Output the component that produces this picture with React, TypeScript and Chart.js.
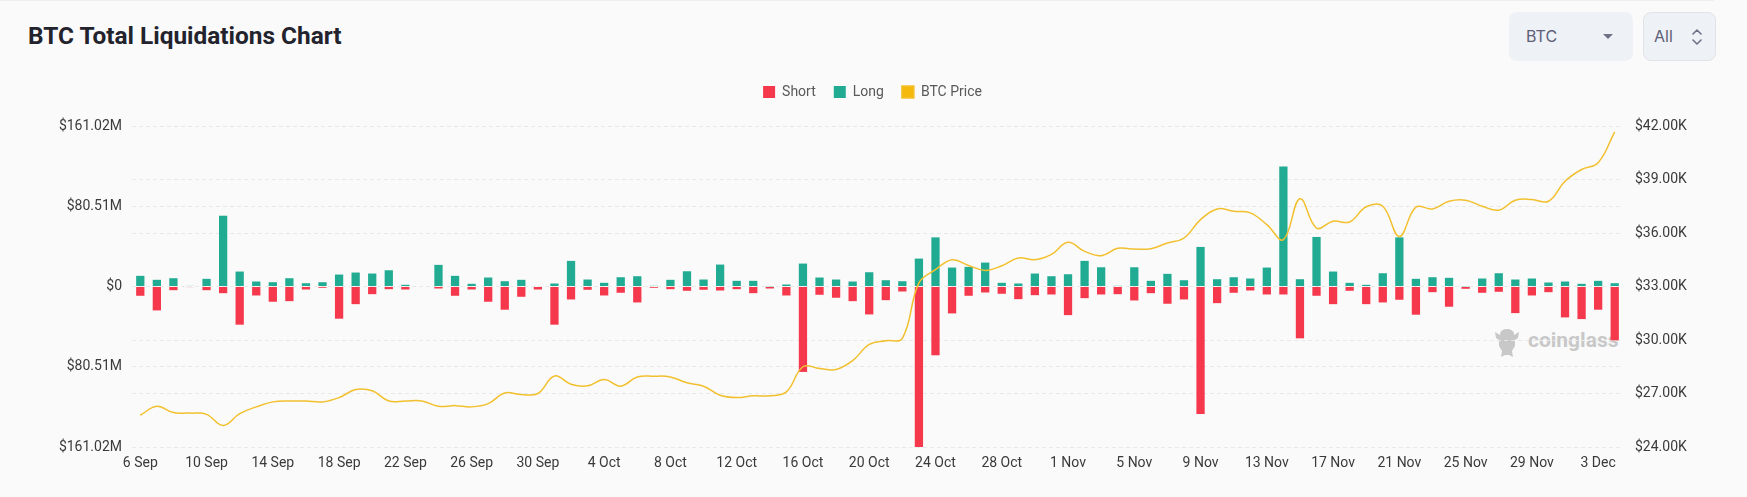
import React, { useEffect, useRef } from "react";
import { Chart, registerables } from "chart.js";

Chart.register(...registerables);

const DATES = [
  "6 Sep", "7 Sep", "8 Sep", "9 Sep", "10 Sep", "11 Sep", "12 Sep", "13 Sep", "14 Sep", "15 Sep",
  "16 Sep", "17 Sep", "18 Sep", "19 Sep", "20 Sep", "21 Sep", "22 Sep", "23 Sep", "24 Sep", "25 Sep",
  "26 Sep", "27 Sep", "28 Sep", "29 Sep", "30 Sep", "1 Oct", "2 Oct", "3 Oct", "4 Oct", "5 Oct",
  "6 Oct", "7 Oct", "8 Oct", "9 Oct", "10 Oct", "11 Oct", "12 Oct", "13 Oct", "14 Oct", "15 Oct",
  "16 Oct", "17 Oct", "18 Oct", "19 Oct", "20 Oct", "21 Oct", "22 Oct", "23 Oct", "24 Oct", "25 Oct",
  "26 Oct", "27 Oct", "28 Oct", "29 Oct", "30 Oct", "31 Oct", "1 Nov", "2 Nov", "3 Nov", "4 Nov",
  "5 Nov", "6 Nov", "7 Nov", "8 Nov", "9 Nov", "10 Nov", "11 Nov", "12 Nov", "13 Nov", "14 Nov",
  "15 Nov", "16 Nov", "17 Nov", "18 Nov", "19 Nov", "20 Nov", "21 Nov", "22 Nov", "23 Nov", "24 Nov",
  "25 Nov", "26 Nov", "27 Nov", "28 Nov", "29 Nov", "30 Nov", "1 Dec", "2 Dec", "3 Dec", "4 Dec",
];

// Long liquidations (millions USD)
const LONGS = [
  10.7, 6.7, 8.3, 0.6, 7.7, 71, 15, 5, 4.3, 8.3,
  3.3, 4.3, 12, 14, 13, 16.3, 1.7, 0.5, 21.7, 10.7,
  2.7, 9, 5.3, 6.7, 0.5, 3, 25.7, 7, 3.7, 9.3,
  10.3, 0.7, 6.7, 15.3, 7, 22, 5.7, 5.7, 0.3, 2,
  23, 9, 7, 5, 14.3, 6.3, 5.3, 28, 49.3, 19,
  19.7, 24, 3.7, 3, 13, 10.3, 12.3, 25.7, 19.3, 0.7,
  19.3, 5.7, 12.7, 6.3, 39.7, 7.3, 9.3, 8, 19, 120.3,
  7.3, 49.7, 15, 3.7, 1.7, 13.3, 49.3, 7.7, 9.3, 8.7,
  0.3, 8, 13.3, 7, 8, 4, 5, 2.7, 5.7, 3.3,
];

// Short liquidations (millions USD, magnitude)
const SHORTS = [
  9.3, 24, 3.7, 0.6, 3.7, 6.7, 38.3, 9, 15.3, 14.7,
  3, 1.3, 32.3, 17.7, 7.7, 2.7, 3, 0.5, 2, 9.3,
  3, 15.3, 23.3, 10.3, 3, 38.3, 13, 3.3, 9, 6.3,
  16, 1.3, 2.7, 4.3, 3.3, 4, 2.7, 6.7, 2, 9,
  85.7, 8.3, 11.3, 14.7, 28, 13.7, 5, 161.02, 69, 27,
  9.3, 6, 7.3, 12.7, 8.7, 8, 28.7, 11.7, 8, 7.7,
  14, 6.7, 17.3, 13, 128, 16.7, 6.3, 4, 8, 8,
  52, 9.3, 17.7, 4.3, 17.7, 16, 13.3, 28.3, 5.7, 20.3,
  2.3, 6.3, 5.3, 26.7, 9, 5.7, 31, 32.7, 23.3, 54,
];

// BTC price (USD)
const PRICES = [
  25780, 26280, 25930, 25900, 25830, 25210, 25870, 26250, 26530, 26580,
  26580, 26530, 26770, 27220, 27150, 26580, 26580, 26580, 26280, 26320,
  26250, 26430, 27030, 26940, 27000, 27980, 27520, 27430, 27780, 27410,
  27930, 27970, 27930, 27600, 27410, 26900, 26770, 26870, 26870, 27090,
  28500, 28400, 28350, 28840, 29750, 29960, 30090, 33200, 33940, 34500,
  34180, 33900, 34160, 34600, 34500, 34800, 35480, 34970, 34730, 35140,
  35100, 35120, 35440, 35720, 36750, 37350, 37220, 37130, 36470, 35630,
  37920, 36280, 36660, 36620, 37470, 37500, 35810, 37450, 37350, 37780,
  37840, 37500, 37280, 37840, 37880, 37780, 38900, 39560, 39940, 41670,
];

const LEFT_TICKS = [-161.02, -80.51, 0, 80.51, 161.02];
const RIGHT_TICKS = [24000, 27000, 30000, 33000, 36000, 39000, 42000];

const FONT = "Roboto, 'Noto Sans', sans-serif";

export default function App() {
  const canvasRef = useRef<HTMLCanvasElement | null>(null);

  useEffect(() => {
    const canvas = canvasRef.current;
    if (!canvas) return;

    const legendGap = {
      id: "legendGap",
      beforeLayout(chart: any) {
        const lg = chart.legend;
        if (lg && !lg._gapPatched) {
          const origFit = lg.fit.bind(lg);
          lg.fit = function () {
            origFit();
            this.height = 59;
          };
          const origDraw = lg.draw.bind(lg);
          lg.draw = function () {
            const ctx = this.ctx;
            ctx.save();
            ctx.translate(-1, 0);
            origDraw();
            ctx.restore();
          };
          lg._gapPatched = true;
        }
      },
    };

    const tickFont = { family: FONT, size: 14 };

    const chart = new Chart(canvas, {
      type: "bar",
      data: {
        labels: DATES,
        datasets: [
          {
            type: "bar",
            label: "Short",
            data: SHORTS.map((v) => -v),
            backgroundColor: "#f5384b",
            borderWidth: 0,
            yAxisID: "y",
            grouped: false,
            barPercentage: 0.5,
            categoryPercentage: 1,
            order: 1,
          },
          {
            type: "bar",
            label: "Long",
            data: LONGS,
            backgroundColor: "#20ab92",
            borderWidth: 0,
            yAxisID: "y",
            grouped: false,
            barPercentage: 0.5,
            categoryPercentage: 1,
            order: 2,
          },
          {
            type: "line",
            label: "BTC Price",
            data: PRICES,
            borderColor: "#f2c02e",
            backgroundColor: "#f5b90c",
            borderWidth: 1.5,
            pointRadius: 0,
            tension: 0.4,
            yAxisID: "y1",
            order: 0,
          },
        ] as any,
      },
      options: {
        responsive: false,
        maintainAspectRatio: false,
        animation: false,
        layout: { padding: { top: 67, left: 0, right: 0, bottom: 0 } },
        plugins: {
          legend: {
            position: "top",
            labels: {
              boxWidth: 12,
              boxHeight: 12,
              padding: 18,
              color: "#595959",
              font: { family: FONT, size: 14 },
              sort: (a: any, b: any) => a.datasetIndex - b.datasetIndex,
            },
          },
          tooltip: { enabled: false },
        },
        scales: {
          x: {
            grid: { display: false, drawTicks: false },
            border: { display: false },
            ticks: {
              autoSkip: false,
              maxRotation: 0,
              minRotation: 0,
              padding: 8,
              color: "#3a3a3a",
              font: tickFont,
              callback: (_v: any, i: number) => (i % 4 === 0 ? DATES[i] : ""),
            },
            afterFit: (s: any) => {
              s.height = 50;
            },
          },
          y: {
            position: "left",
            min: -161.02,
            max: 161.02,
            afterBuildTicks: (s: any) => {
              s.ticks = LEFT_TICKS.map((value) => ({ value }));
            },
            grid: { color: "#e9e9e9", drawTicks: false, lineWidth: 1 },
            border: { display: false, dash: [4, 3] },
            ticks: {
              padding: 10,
              color: "#3a3a3a",
              font: tickFont,
              callback: (v: any) => {
                const a = Math.abs(Number(v));
                return a < 0.001 ? "$0" : "$" + a.toFixed(2) + "M";
              },
            },
            afterFit: (s: any) => {
              s.width = 132;
            },
          },
          y1: {
            position: "right",
            min: 24000,
            max: 42000,
            afterBuildTicks: (s: any) => {
              s.ticks = RIGHT_TICKS.map((value) => ({ value }));
            },
            grid: { color: "#e9e9e9", drawTicks: false, lineWidth: 1 },
            border: { display: false, dash: [4, 3] },
            ticks: {
              padding: 12,
              color: "#3a3a3a",
              font: tickFont,
              callback: (v: any) => "$" + (Number(v) / 1000).toFixed(2) + "K",
            },
            afterFit: (s: any) => {
              s.width = 124;
            },
          },
        },
      } as any,
      plugins: [legendGap as any],
    });

    return () => {
      chart.destroy();
    };
  }, []);

  return (
    <div
      style={{
        position: "absolute",
        left: 0,
        top: 0,
        width: 1747,
        height: 497,
        background: "#fafafa",
        overflow: "hidden",
        fontFamily: FONT,
      }}
    >
      <div
        style={{
          position: "absolute",
          left: 0,
          top: 0,
          width: 1714,
          height: 1,
          background: "#efefef",
        }}
      />
      <div
        style={{
          position: "absolute",
          left: 28,
          top: 24,
          fontFamily: FONT,
          fontWeight: 700,
          fontSize: 24.4,
          lineHeight: "24px",
          color: "#23232d",
          whiteSpace: "nowrap",
        }}
      >
        BTC Total Liquidations Chart
      </div>

      {/* BTC selector */}
      <div
        style={{
          position: "absolute",
          left: 1509,
          top: 12,
          width: 124,
          height: 49,
          borderRadius: 8,
          background: "#eef1f6",
          boxSizing: "border-box",
        }}
      >
        <div
          style={{
            position: "absolute",
            left: 17,
            top: 0,
            lineHeight: "49px",
            fontFamily: "Inter, sans-serif",
            fontSize: 16,
            color: "#5d6078",
          }}
        >
          BTC
        </div>
        <div
          style={{
            position: "absolute",
            left: 94,
            top: 22,
            width: 0,
            height: 0,
            borderLeft: "5px solid transparent",
            borderRight: "5px solid transparent",
            borderTop: "5px solid #6e7186",
          }}
        />
      </div>

      {/* All selector */}
      <div
        style={{
          position: "absolute",
          left: 1643,
          top: 12,
          width: 73,
          height: 49,
          borderRadius: 8,
          background: "#eef1f5",
          border: "1px solid #e0e3e8",
          boxSizing: "border-box",
        }}
      >
        <div
          style={{
            position: "absolute",
            left: 10,
            top: 0,
            lineHeight: "47px",
            fontFamily: "Inter, sans-serif",
            fontSize: 16,
            color: "#5d6078",
          }}
        >
          All
        </div>
        <svg
          width="12"
          height="20"
          viewBox="0 0 12 20"
          style={{ position: "absolute", left: 47, top: 14 }}
        >
          <polyline points="2,7 6,3 10,7" fill="none" stroke="#6e7186" strokeWidth="1.6" strokeLinecap="round" strokeLinejoin="round" />
          <polyline points="2,13 6,17 10,13" fill="none" stroke="#6e7186" strokeWidth="1.6" strokeLinecap="round" strokeLinejoin="round" />
        </svg>
      </div>

      {/* watermark */}
      <svg
        width="30"
        height="32"
        viewBox="0 0 30 32"
        style={{ position: "absolute", left: 1492, top: 326 }}
      >
        <g fill="#c8c8c8">
          <path d="M3 6 L8 9 L22 9 L27 6 L26 12 L23 14 L23 20 L20 25 L21 31 L17 29 L13 29 L9 31 L10 25 L7 20 L7 14 L4 12 Z" />
          <ellipse cx="15" cy="8" rx="7" ry="5" />
        </g>
      </svg>
      <div
        style={{
          position: "absolute",
          left: 1528,
          top: 328,
          fontFamily: FONT,
          fontWeight: 700,
          fontSize: 21,
          lineHeight: "24px",
          color: "#c8c8c8",
          whiteSpace: "nowrap",
        }}
      >
        coinglass
      </div>

      <canvas
        ref={canvasRef}
        width={1747}
        height={497}
        style={{ position: "absolute", left: 0, top: 0, width: 1747, height: 497 }}
      />
    </div>
  );
}
